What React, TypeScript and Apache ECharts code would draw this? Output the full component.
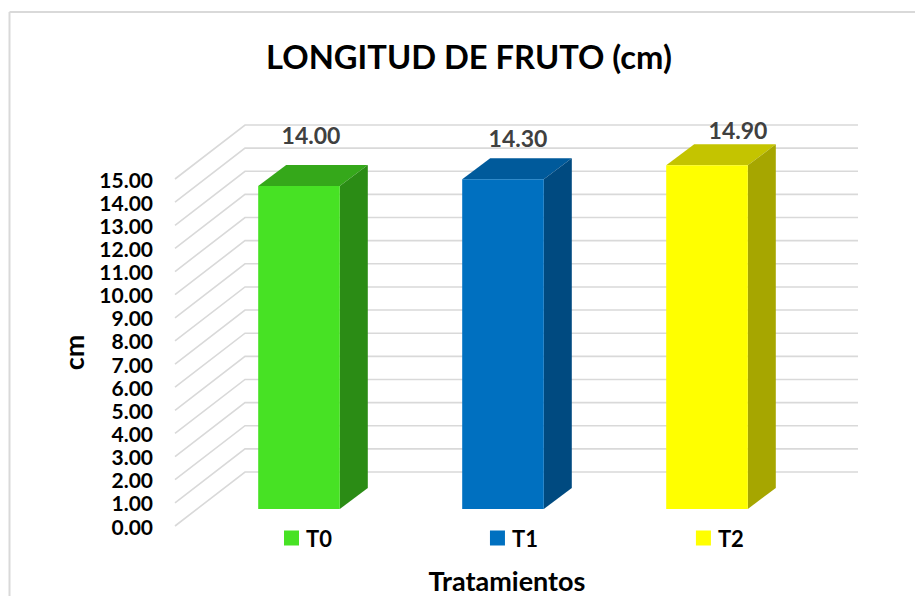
import React, { useEffect, useRef } from "react";
import * as echarts from "echarts";

const categories = ["T0", "T1", "T2"];
const values = [14.0, 14.3, 14.9];
const valueLabels = ["14.00", "14.30", "14.90"];
const gridValues = [0, 1, 2, 3, 4, 5, 6, 7, 8, 9, 10, 11, 12, 13, 14, 15];
const frontColors = ["#47E224", "#0070C0", "#FFFF00"];
const topColors = ["#35A81A", "#005A9B", "#C4C400"];
const sideColors = ["#2B8C15", "#004A80", "#A6A600"];
const labelOffsets = [[-2, -30], [1, -20], [17, -14]];

const FONT = "Lato, Carlito, Calibri, sans-serif";
const BAR_DX = 28;
const BAR_DY = 21;
const WALL_DX = 70;
const WALL_DY = 54;
const GRID_COLOR = "#D9D9D9";

function wallLines(_p: any, api: any) {
  const v = api.value(0);
  const front = api.coord([0, v]);
  const right = api.coord([1, v]);
  return {
    type: "polyline",
    silent: true,
    shape: {
      points: [
        [front[0], front[1]],
        [front[0] + WALL_DX, front[1] - WALL_DY],
        [right[0], front[1] - WALL_DY],
      ],
    },
    style: { stroke: GRID_COLOR, lineWidth: 1.6, fill: "none" },
  };
}

function barItem(i: number) {
  return (_p: any, api: any) => {
    const cat = api.value(0);
    const top = api.coord([cat, api.value(1)]);
    const base = api.coord([cat, 0]);
    const w = api.size([1, 0])[0] * 0.4;
    const l = top[0] - w / 2;
    const r = top[0] + w / 2;
    const t = top[1];
    const b = base[1];
    const dx = BAR_DX;
    const dy = BAR_DY;
    return {
      type: "group",
      children: [
        { type: "polygon", shape: { points: [[l, t], [r, t], [r + dx, t - dy], [l + dx, t - dy]] }, style: { fill: topColors[i] } },
        { type: "polygon", shape: { points: [[r, t], [r, b], [r + dx, b - dy], [r + dx, t - dy]] }, style: { fill: sideColors[i] } },
        { type: "rect", shape: { x: l, y: t, width: w, height: b - t }, style: { fill: frontColors[i] } },
        {
          type: "text",
          style: {
            text: valueLabels[i],
            x: top[0] + dx / 2 + labelOffsets[i][0],
            y: t - dy + labelOffsets[i][1],
            align: "center",
            verticalAlign: "middle",
            font: "bold 23px " + FONT,
            fill: "#404040",
          },
        },
      ],
    };
  };
}

export default function App() {
  const ref = useRef<HTMLDivElement>(null);
  useEffect(() => {
    document.body.style.margin = "0";
    const chart = echarts.init(ref.current!, null, { renderer: "svg" });
    chart.setOption({
      animation: false,
      backgroundColor: "#FFFFFF",
      title: {
        text: "LONGITUD DE FRUTO (cm)",
        left: 464,
        top: 35,
        textAlign: "center",
        textStyle: { fontFamily: FONT, fontWeight: "bold", fontSize: 32.7, color: "#000000" },
      },
      legend: {
        data: categories,
        left: 279,
        top: 522,
        icon: "rect",
        itemWidth: 15,
        itemHeight: 15,
        itemGap: 158,
        itemStyle: { borderWidth: 0 },
        textStyle: { fontFamily: FONT, fontWeight: "bold", fontSize: 22, color: "#000000", padding: [0, 0, 0, 2] },
      },
      graphic: [
        { type: "line", silent: true, shape: { x1: 9.5, y1: 12, x2: 9.5, y2: 596 }, style: { stroke: GRID_COLOR, lineWidth: 2 } },
        { type: "line", silent: true, shape: { x1: 9.5, y1: 12, x2: 915, y2: 12 }, style: { stroke: GRID_COLOR, lineWidth: 2 } },
      ],
      grid: [
        { left: 175, width: 683, top: 179, height: 347, outerBoundsMode: "none" },
        { left: 197, width: 612, top: 163, height: 346, outerBoundsMode: "none" },
      ],
      xAxis: [
        { type: "value", gridIndex: 0, min: 0, max: 1, show: false },
        {
          type: "category",
          gridIndex: 1,
          data: categories,
          axisLine: { show: false },
          axisTick: { show: false },
          axisLabel: { show: false },
          name: "Tratamientos",
          nameLocation: "middle",
          nameGap: 58,
          nameTextStyle: { fontFamily: FONT, fontWeight: "bold", fontSize: 27, color: "#000000", padding: [0, 0, 0, 8] },
        },
      ],
      yAxis: [
        {
          type: "value",
          gridIndex: 0,
          min: 0,
          max: 15,
          interval: 1,
          splitLine: { show: false },
          axisLine: { show: false },
          axisTick: { show: false },
          axisLabel: {
            margin: 22,
            formatter: (v: number) => v.toFixed(2),
            fontFamily: FONT,
            fontWeight: "bold",
            fontSize: 21,
            color: "#000000",
          },
          name: "cm",
          nameLocation: "middle",
          nameGap: 88,
          nameTextStyle: { fontFamily: FONT, fontWeight: "bold", fontSize: 27, color: "#000000" },
        },
        { type: "value", gridIndex: 1, min: 0, max: 15, interval: 1, show: false },
      ],
      series: [
        {
          type: "custom",
          name: "wall",
          xAxisIndex: 0,
          yAxisIndex: 0,
          coordinateSystem: "cartesian2d",
          renderItem: wallLines,
          encode: { y: 0 },
          data: gridValues.map((v) => [v]),
          silent: true,
          z: 1,
        },
        ...categories.map((name, i) => ({
          type: "custom",
          name,
          xAxisIndex: 1,
          yAxisIndex: 1,
          coordinateSystem: "cartesian2d",
          renderItem: barItem(i),
          encode: { x: 0, y: 1 },
          data: [[i, values[i]]],
          itemStyle: { color: frontColors[i] },
          z: 2,
        })),
      ],
    });
    return () => chart.dispose();
  }, []);
  return <div ref={ref} style={{ position: "fixed", left: 0, top: 0, width: 915, height: 596 }} />;
}
